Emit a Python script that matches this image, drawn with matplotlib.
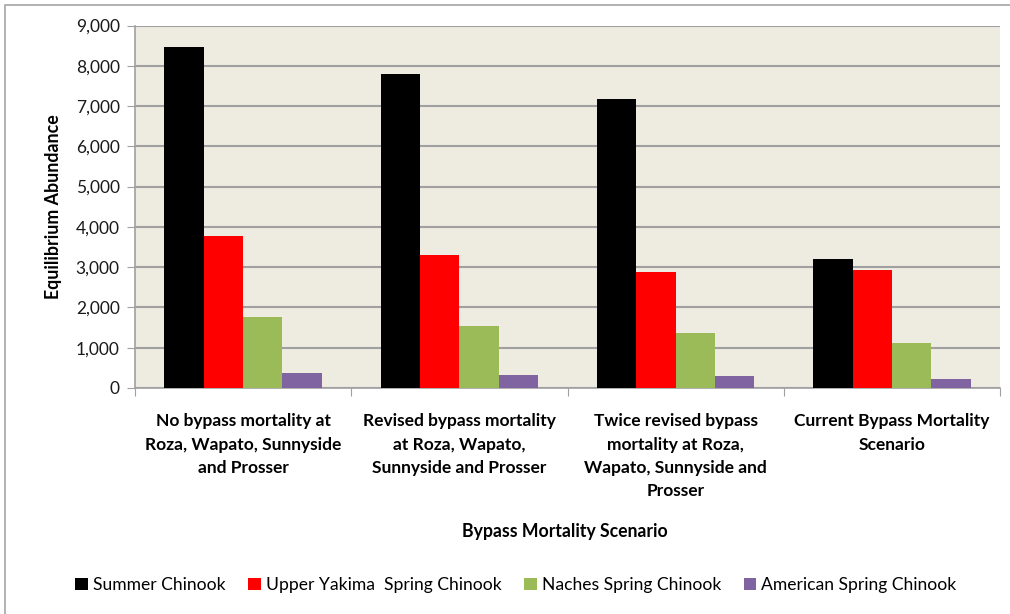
import matplotlib
matplotlib.use('Agg')
import matplotlib.pyplot as plt
import numpy as np
from matplotlib.patches import Patch, Rectangle

# equilibrium abundance by bypass mortality scenario
scenarios = ['No bypass mortality at\nRoza, Wapato, Sunnyside\nand Prosser',
             'Revised bypass mortality\nat Roza, Wapato,\nSunnyside and Prosser',
             'Twice revised bypass\nmortality at Roza,\nWapato, Sunnyside and\nProsser',
             'Current Bypass Mortality\nScenario']
series_names = ['Summer Chinook', 'Upper Yakima  Spring Chinook',
                'Naches Spring Chinook', 'American Spring Chinook']
summer = [8455, 7790, 7170, 3215]
upper_yakima = [3765, 3290, 2885, 2920]
naches = [1775, 1550, 1370, 1110]
american = [375, 335, 300, 225]
yticks = [0, 1000, 2000, 3000, 4000, 5000, 6000, 7000, 8000, 9000]

colors = ['#000000', '#FF0000', '#9BBB59', '#8064A2']

plt.rcParams['font.family'] = ['Lato', 'DejaVu Sans']

fig = plt.figure(figsize=(10.1, 6.14), dpi=100)
# outer chart frame
fig.patches.append(Rectangle((5 / 1010, -0.1), 1.2, 1 - 5 / 614 + 0.1,
                             transform=fig.transFigure, fill=False,
                             edgecolor='#A6A6A6', linewidth=1.2))

ax = fig.add_axes([135 / 1010, 1 - 388 / 614, 865 / 1010, (388 - 25.5) / 614])
ax.set_facecolor('#EEECE1')

data = [summer, upper_yakima, naches, american]
x = np.arange(len(scenarios))
bw = 1 / 5.5
for i, (vals, col) in enumerate(zip(data, colors)):
    ax.bar(x + (i - 1.5) * bw, vals, width=bw, color=col, zorder=3)

ax.set_xlim(-0.5, len(scenarios) - 0.5)
ax.set_ylim(0, 9000)
ax.set_yticks(yticks)
ax.set_yticklabels([f'{v:,}' for v in yticks], fontsize=12.5, color='#1a1a1a')
ax.yaxis.grid(True, color='#A0A0A0', linewidth=1.5, zorder=1)
ax.set_axisbelow(True)

ax.set_xticks(np.arange(len(scenarios) + 1) - 0.5)
ax.set_xticklabels([])
ax.tick_params(axis='x', length=6, color='#A0A0A0', direction='out')
ax.tick_params(axis='y', length=6, color='#A0A0A0', direction='out', pad=5)
for s in ['top', 'right']:
    ax.spines[s].set_visible(False)
for s in ['left', 'bottom']:
    ax.spines[s].set_color('#A0A0A0')
    ax.spines[s].set_linewidth(1.2)

for xi, lab in zip(x, scenarios):
    ax.text(xi, -0.07, lab, transform=ax.get_xaxis_transform(), ha='center',
            va='top', fontsize=12.5, fontweight='bold', linespacing=1.55)

ax.set_ylabel('Equilibrium Abundance', fontsize=12.8, fontweight='bold', labelpad=10)
fig.text(565 / 1010, 1 - 532 / 614, 'Bypass Mortality Scenario', ha='center',
         va='center', fontsize=12.7, fontweight='bold')

handles = [Patch(facecolor=c, edgecolor='none') for c in colors]
fig.legend(handles, series_names, loc='center', ncol=4,
           bbox_to_anchor=(516 / 1010, 1 - 585 / 614), frameon=False,
           fontsize=12.6, handlelength=0.7, handleheight=0.7, handletextpad=0.3,
           columnspacing=1.3)

plt.savefig('out.png', dpi=100)
